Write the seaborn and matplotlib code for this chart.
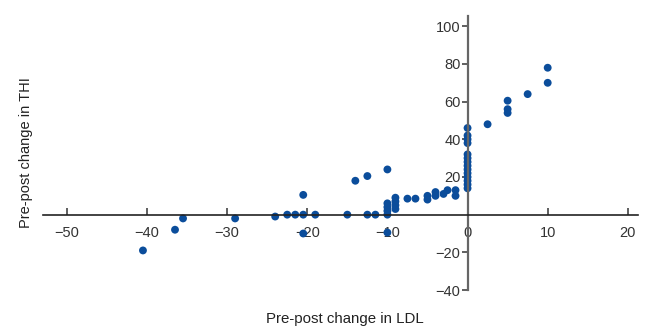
import matplotlib
matplotlib.use("Agg")
import matplotlib.pyplot as plt
import numpy as np
import pandas as pd
import seaborn as sns

# values
ldl_change = [-40.5, -36.5, -35.5, -29, -24, -22.5, -21.5, -20.5, -19, -20.5, -20.5, -15,
              -14, -12.5, -10, -12.5, -11.5, -10, -10, -10, -10, -10,
              -9, -9, -9, -9, -7.5, -6.5, -5, -5, -4, -4, -3, -2.5, -1.5, -1.5,
              0, 0, 0, 0, 0, 0, 0, 0, 0, 0, 0, 0, 0, 0,
              2.5, 5, 5, 5, 7.5, 10, 10]
thi_change = [-19, -8, -2, -2, -1, 0, 0, 0, 0, 10.5, -10, 0,
              18, 20.5, 24, 0, 0, 0, 2, 4, 6, -9.5,
              3, 5, 7, 9, 8.5, 8.5, 8, 10, 10, 12, 11, 13, 10, 13,
              14, 16, 18, 20, 22, 24, 26, 28, 30, 32, 38, 40, 42, 46,
              48, 60.5, 56, 54, 64, 78, 70]

x_ticks = [-50, -40, -30, -20, -10, 0, 10, 20]
y_ticks = [-40, -20, 20, 40, 60, 80, 100]

df = pd.DataFrame({"ldl": ldl_change, "thi": thi_change})

sns.set_theme(style="white")
plt.rcParams["font.family"] = ["Liberation Sans", "DejaVu Sans"]

fig = plt.figure(figsize=(6.58, 3.32), dpi=100)
ax = fig.add_axes([0.065, 0.1265, 0.905, 0.8255])

sns.scatterplot(data=df, x="ldl", y="thi", ax=ax, color="#0b4d9b", s=32,
                edgecolor="none", linewidth=0)

ax.set_xlim(-53, 21.3)
ax.set_ylim(-40, 105.5)

ax.spines["left"].set_position(("data", 0))
ax.spines["bottom"].set_position(("data", 0))
ax.spines["right"].set_visible(False)
ax.spines["top"].set_visible(False)
ax.spines["left"].set_color("#666666")
ax.spines["left"].set_linewidth(1.6)
ax.spines["bottom"].set_color("#222222")
ax.spines["bottom"].set_linewidth(1.2)

ax.set_xticks(x_ticks)
ax.set_yticks(y_ticks)
ax.set_xticklabels([f"{v}".replace("-", "\u2212") for v in x_ticks])
ax.set_yticklabels([f"{v}".replace("-", "\u2212") for v in y_ticks])
ax.tick_params(axis="x", bottom=True, direction="in", length=5, width=1.2, color="#444444",
               labelsize=10.5, labelcolor="#333333", pad=8)
ax.tick_params(axis="y", left=True, direction="out", length=4, width=1.2, color="#444444",
               labelsize=10.5, labelcolor="#333333", pad=1)

ax.set_xlabel("Pre-post change in LDL", fontsize=10.8, color="#222222")
ax.set_ylabel("Pre-post change in THI", fontsize=10.5, color="#222222")
ax.xaxis.set_label_coords(0.508, -0.08)
ax.yaxis.set_label_coords(-0.016, 0.5)

fig.savefig("out.png", dpi=100)
plt.close(fig)
